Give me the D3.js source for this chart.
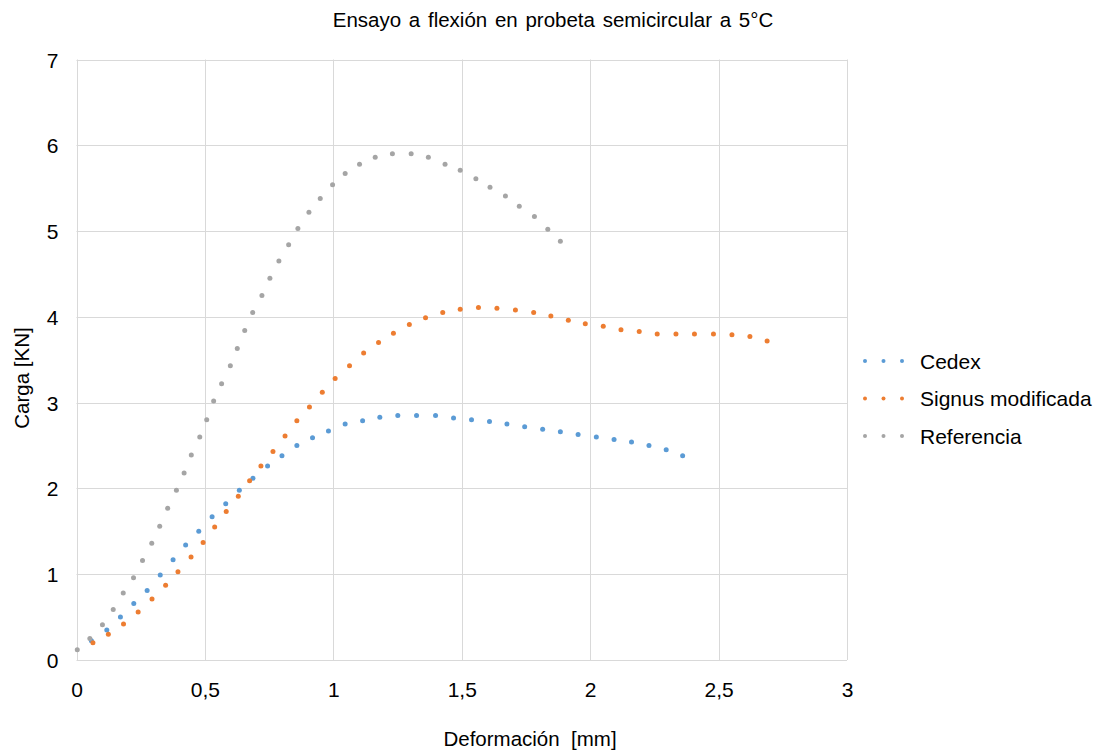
<!DOCTYPE html>
<html>
<head>
<meta charset="utf-8">
<script src="https://cdn.jsdelivr.net/npm/d3@7"></script>
<style>
  html, body { margin: 0; padding: 0; background: #fff; }
  text { font-family: "Liberation Sans", Arial, sans-serif; fill: #000; }
</style>
</head>
<body>
<svg id="chart" width="1102" height="751"></svg>
<script>
const chartTitle = "Ensayo a flexión en probeta semicircular a 5°C";
const xTitle = "Deformación  [mm]";
const yTitle = "Carga [KN]";
const seriesNames = ["Cedex", "Signus modificada", "Referencia"];
const seriesColors = ["#5B9BD5", "#ED7D31", "#A5A5A5"];
const xTicks = [0, 0.5, 1, 1.5, 2, 2.5, 3];
const yTicks = [0, 1, 2, 3, 4, 5, 6, 7];

const cedexX = [0.058, 0.118, 0.171, 0.223, 0.275, 0.326, 0.376, 0.425, 0.476, 0.528, 0.581, 0.634, 0.687, 0.744, 0.800, 0.858, 0.919, 0.981, 1.046, 1.114, 1.181, 1.251, 1.324, 1.398, 1.468, 1.538, 1.608, 1.676, 1.745, 1.815, 1.884, 1.953, 2.024, 2.093, 2.161, 2.229, 2.296, 2.360];
const cedexY = [0.225, 0.35, 0.50, 0.66, 0.81, 0.99, 1.17, 1.34, 1.50, 1.67, 1.82, 1.98, 2.12, 2.26, 2.38, 2.50, 2.59, 2.67, 2.75, 2.79, 2.83, 2.85, 2.85, 2.85, 2.82, 2.80, 2.78, 2.75, 2.72, 2.69, 2.66, 2.63, 2.60, 2.57, 2.54, 2.50, 2.45, 2.38];

const signusX = [0.064, 0.124, 0.183, 0.240, 0.294, 0.347, 0.395, 0.446, 0.493, 0.538, 0.583, 0.630, 0.674, 0.718, 0.765, 0.812, 0.858, 0.907, 0.957, 1.007, 1.063, 1.118, 1.176, 1.234, 1.296, 1.359, 1.426, 1.494, 1.565, 1.637, 1.709, 1.780, 1.847, 1.915, 1.981, 2.051, 2.120, 2.191, 2.261, 2.334, 2.406, 2.480, 2.552, 2.622, 2.689];
const signusY = [0.20, 0.30, 0.42, 0.56, 0.71, 0.87, 1.03, 1.20, 1.37, 1.55, 1.73, 1.91, 2.09, 2.26, 2.43, 2.61, 2.79, 2.95, 3.12, 3.28, 3.43, 3.58, 3.70, 3.81, 3.91, 3.99, 4.05, 4.09, 4.11, 4.10, 4.08, 4.05, 4.01, 3.96, 3.92, 3.89, 3.85, 3.83, 3.80, 3.80, 3.80, 3.80, 3.79, 3.77, 3.72];

const referenciaX = [0.003, 0.052, 0.101, 0.143, 0.182, 0.222, 0.257, 0.293, 0.324, 0.355, 0.389, 0.419, 0.447, 0.480, 0.507, 0.534, 0.565, 0.599, 0.626, 0.655, 0.686, 0.722, 0.753, 0.788, 0.826, 0.862, 0.905, 0.949, 0.997, 1.046, 1.102, 1.163, 1.230, 1.303, 1.370, 1.435, 1.494, 1.555, 1.610, 1.670, 1.724, 1.783, 1.835, 1.884];
const referenciaY = [0.12, 0.25, 0.41, 0.59, 0.78, 0.96, 1.16, 1.36, 1.56, 1.77, 1.98, 2.18, 2.39, 2.60, 2.80, 3.02, 3.22, 3.43, 3.63, 3.84, 4.05, 4.25, 4.45, 4.65, 4.84, 5.03, 5.22, 5.38, 5.54, 5.67, 5.78, 5.86, 5.90, 5.90, 5.86, 5.78, 5.71, 5.61, 5.51, 5.41, 5.29, 5.17, 5.02, 4.88];

const series = [
  { name: seriesNames[0], color: seriesColors[0], xs: cedexX, ys: cedexY },
  { name: seriesNames[1], color: seriesColors[1], xs: signusX, ys: signusY },
  { name: seriesNames[2], color: seriesColors[2], xs: referenciaX, ys: referenciaY }
];

const svg = d3.select("#chart");
const plotLeft = 76.5, plotRight = 847, plotTop = 59.5, plotBottom = 660;
const x = d3.scaleLinear().domain([0, 3]).range([plotLeft, plotRight]);
const y = d3.scaleLinear().domain([0, 7]).range([plotBottom, plotTop]);
const fmt = d => String(d).replace(".", ",");

// gridlines
const grid = svg.append("g");
grid.selectAll(".vg").data(xTicks).join("line")
  .attr("x1", d => Math.round(x(d)) + 0.5).attr("x2", d => Math.round(x(d)) + 0.5)
  .attr("y1", y(0)).attr("y2", y(7))
  .attr("stroke", "#d9d9d9").attr("stroke-width", 1);
grid.selectAll(".hg").data(yTicks).join("line")
  .attr("x1", x(0)).attr("x2", x(3))
  .attr("y1", d => Math.round(y(d)) + 0.5).attr("y2", d => Math.round(y(d)) + 0.5)
  .attr("stroke", "#d9d9d9").attr("stroke-width", 1);

// axes (labels only)
const xAxis = svg.append("g").attr("transform", `translate(0,${plotBottom})`)
  .call(d3.axisBottom(x).tickValues(xTicks).tickFormat(fmt).tickSize(0).tickPadding(0));
xAxis.select(".domain").remove();
xAxis.selectAll("text").attr("y", 37).attr("dy", 0)
  .style("font-size", "21px").style("font-family", "'Liberation Sans', Arial, sans-serif").attr("fill", "#000");

const yAxis = svg.append("g").attr("transform", `translate(${plotLeft},0)`)
  .call(d3.axisLeft(y).tickValues(yTicks).tickFormat(fmt).tickSize(0).tickPadding(0));
yAxis.select(".domain").remove();
yAxis.selectAll("text").attr("x", -18).attr("dy", "0.36em")
  .style("font-size", "21px").style("font-family", "'Liberation Sans', Arial, sans-serif").attr("fill", "#000");

// series
series.forEach(s => {
  svg.append("g").selectAll("circle").data(s.xs.map((v, i) => [v, s.ys[i]])).join("circle")
    .attr("cx", d => x(d[0])).attr("cy", d => y(d[1])).attr("r", 2.5)
    .attr("fill", s.color);
});

// titles
svg.append("text").attr("x", 553).attr("y", 27).attr("text-anchor", "middle")
  .style("font-size", "20.5px").style("word-spacing", "2px").text(chartTitle);
svg.append("text").attr("x", 530).attr("y", 746).attr("text-anchor", "middle")
  .style("font-size", "20.5px").style("white-space", "pre").text(xTitle);
svg.append("text").attr("transform", "translate(29,378) rotate(-90)").attr("text-anchor", "middle")
  .style("font-size", "20.5px").text(yTitle);

// legend
const legend = svg.append("g");
series.forEach((s, i) => {
  const cy = 361 + i * 37.5;
  [865, 883.5, 902].forEach(cx => {
    legend.append("circle").attr("cx", cx).attr("cy", cy).attr("r", 2).attr("fill", s.color);
  });
  legend.append("text").attr("x", 920).attr("y", cy).attr("dy", "0.36em")
    .style("font-size", "21px").text(s.name);
});
</script>
</body>
</html>
